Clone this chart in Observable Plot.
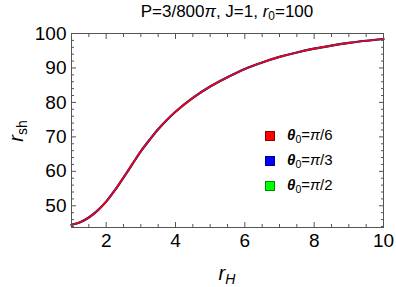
<!DOCTYPE html>
<html>
<head>
<meta charset="utf-8">
<script src="https://cdn.jsdelivr.net/npm/d3@7"></script>
<script src="https://cdn.jsdelivr.net/npm/@observablehq/plot@0.6"></script>
<style>
  body { margin: 0; background: #fff; }
  #wrap { position: relative; width: 396px; height: 287px; font-family: "Liberation Sans", Arial, sans-serif; color: #000; }
  .abs { position: absolute; white-space: nowrap; line-height: 1; }
  sub { font-size: 0.7em; vertical-align: -0.25em; line-height: 0; }
  .sw { position: absolute; width: 8px; height: 8px; }
</style>
</head>
<body>
<div id="wrap"></div>
<script>
// Data
const rH = [1, 1.25, 1.5, 1.75, 2, 2.25, 2.5, 2.75, 3, 3.25, 3.5, 3.75, 4, 4.5, 5, 5.5, 6, 6.5, 7, 7.5, 8, 8.5, 9, 9.5, 10];
const rshPi6 = [44.5, 45.2, 46.6, 48.6, 51.2, 54.5, 58.2, 62.0, 65.8, 69.1, 72.2, 74.9, 77.3, 81.3, 84.6, 87.3, 89.7, 91.6, 93.2, 94.5, 95.6, 96.5, 97.3, 97.9, 98.4];
const rshPi3 = [44.5, 45.2, 46.6, 48.6, 51.2, 54.5, 58.2, 62.0, 65.8, 69.1, 72.2, 74.9, 77.3, 81.3, 84.6, 87.3, 89.7, 91.6, 93.2, 94.5, 95.6, 96.5, 97.3, 97.9, 98.4];
const rshPi2 = [44.5, 45.2, 46.6, 48.6, 51.2, 54.5, 58.2, 62.0, 65.8, 69.1, 72.2, 74.9, 77.3, 81.3, 84.6, 87.3, 89.7, 91.6, 93.2, 94.5, 95.6, 96.5, 97.3, 97.9, 98.4];
const seriesNames = ["π/6", "π/3", "π/2"];
const seriesColors = ["#ff0000", "#0000ff", "#00ff00"];
const xMajor = [2, 4, 6, 8, 10];
const xMinor = [1.5, 2.5, 3, 3.5, 4.5, 5, 5.5, 6.5, 7, 7.5, 8.5, 9, 9.5];
const yMajor = [50, 60, 70, 80, 90, 100];
const yMinor = [44, 46, 48, 52, 54, 56, 58, 62, 64, 66, 68, 72, 74, 76, 78, 82, 84, 86, 88, 92, 94, 96, 98];
const xDomain = [1, 10];
const yDomain = [43.7, 100];

const mk = (ys) => rH.map((x, i) => ({x, y: ys[i]}));
const dPi6 = mk(rshPi6), dPi3 = mk(rshPi3), dPi2 = mk(rshPi2);

const frameColor = "#555";
const empty = () => "";

const chart = Plot.plot({
  width: 396,
  height: 287,
  marginLeft: 71,
  marginRight: 13,
  marginTop: 33,
  marginBottom: 60,
  style: {fontFamily: "'Liberation Sans', Arial, sans-serif", fontSize: "19px", color: "#000", background: "transparent", overflow: "visible"},
  x: {domain: xDomain},
  y: {domain: yDomain},
  marks: [
    Plot.line(dPi2, {x: "x", y: "y", stroke: seriesColors[2], strokeWidth: 2.2, curve: "catmull-rom"}),
    Plot.line(dPi3, {x: "x", y: "y", stroke: seriesColors[1], strokeWidth: 2.2, curve: "catmull-rom"}),
    Plot.line(dPi6, {x: "x", y: "y", stroke: seriesColors[0], strokeWidth: 1.7, curve: "catmull-rom"}),
    Plot.frame({stroke: frameColor, strokeWidth: 1}),
    Plot.axisX(xMajor, {anchor: "bottom", tickSize: -5, tickPadding: 11, stroke: frameColor, fill: "#000", fontSize: 19, label: null}),
    Plot.axisX(xMinor, {anchor: "bottom", tickSize: -3, tickFormat: empty, stroke: frameColor, label: null}),
    Plot.axisX(xMajor, {anchor: "top", tickSize: -5, tickFormat: empty, stroke: frameColor, label: null}),
    Plot.axisX(xMinor, {anchor: "top", tickSize: -3, tickFormat: empty, stroke: frameColor, label: null}),
    Plot.axisY(yMajor, {anchor: "left", tickSize: -5, tickPadding: 10, stroke: frameColor, fill: "#000", fontSize: 19, label: null}),
    Plot.axisY(yMinor, {anchor: "left", tickSize: -3, tickFormat: empty, stroke: frameColor, label: null}),
    Plot.axisY(yMajor, {anchor: "right", tickSize: -5, tickFormat: empty, stroke: frameColor, label: null}),
    Plot.axisY(yMinor, {anchor: "right", tickSize: -3, tickFormat: empty, stroke: frameColor, label: null})
  ]
});

const wrap = document.getElementById("wrap");
chart.style.position = "absolute";
chart.style.left = "0px";
chart.style.top = "0px";
wrap.appendChild(chart);

// Title
const title = document.createElement("div");
title.className = "abs";
title.style.cssText = "left:227px;top:3px;transform:translateX(-50%);font-size:17px;";
title.innerHTML = "P=3/800<i>π</i>, J=1, <i>r</i><sub>0</sub>=100";
wrap.appendChild(title);

// X axis label
const xl = document.createElement("div");
xl.className = "abs";
xl.style.cssText = "left:227px;top:263px;transform:translateX(-50%);font-size:20px;";
xl.innerHTML = "<i>r</i><sub><i>H</i></sub>";
wrap.appendChild(xl);

// Y axis label
const yl = document.createElement("div");
yl.className = "abs";
yl.style.cssText = "left:16px;top:131px;transform:translate(-50%,-50%) rotate(-90deg);font-size:20px;";
yl.innerHTML = "<i>r</i><sub>sh</sub>";
wrap.appendChild(yl);

// Legend
seriesNames.forEach((name, i) => {
  const cy = 135 + i * 25;
  const sw = document.createElement("div");
  sw.className = "sw";
  sw.style.cssText = `left:265px;top:${cy - 4}px;background:${seriesColors[i]};border:0.5px solid rgba(0,0,0,0.45);`;
  wrap.appendChild(sw);
  const t = document.createElement("div");
  t.className = "abs";
  t.style.cssText = `left:287px;top:${cy - 8}px;font-size:15px;`;
  const den = name.split("/")[1];
  t.innerHTML = `<b><i>θ</i></b><sub>0</sub>=<i>π</i>/${den}`;
  wrap.appendChild(t);
});
</script>
</body>
</html>
